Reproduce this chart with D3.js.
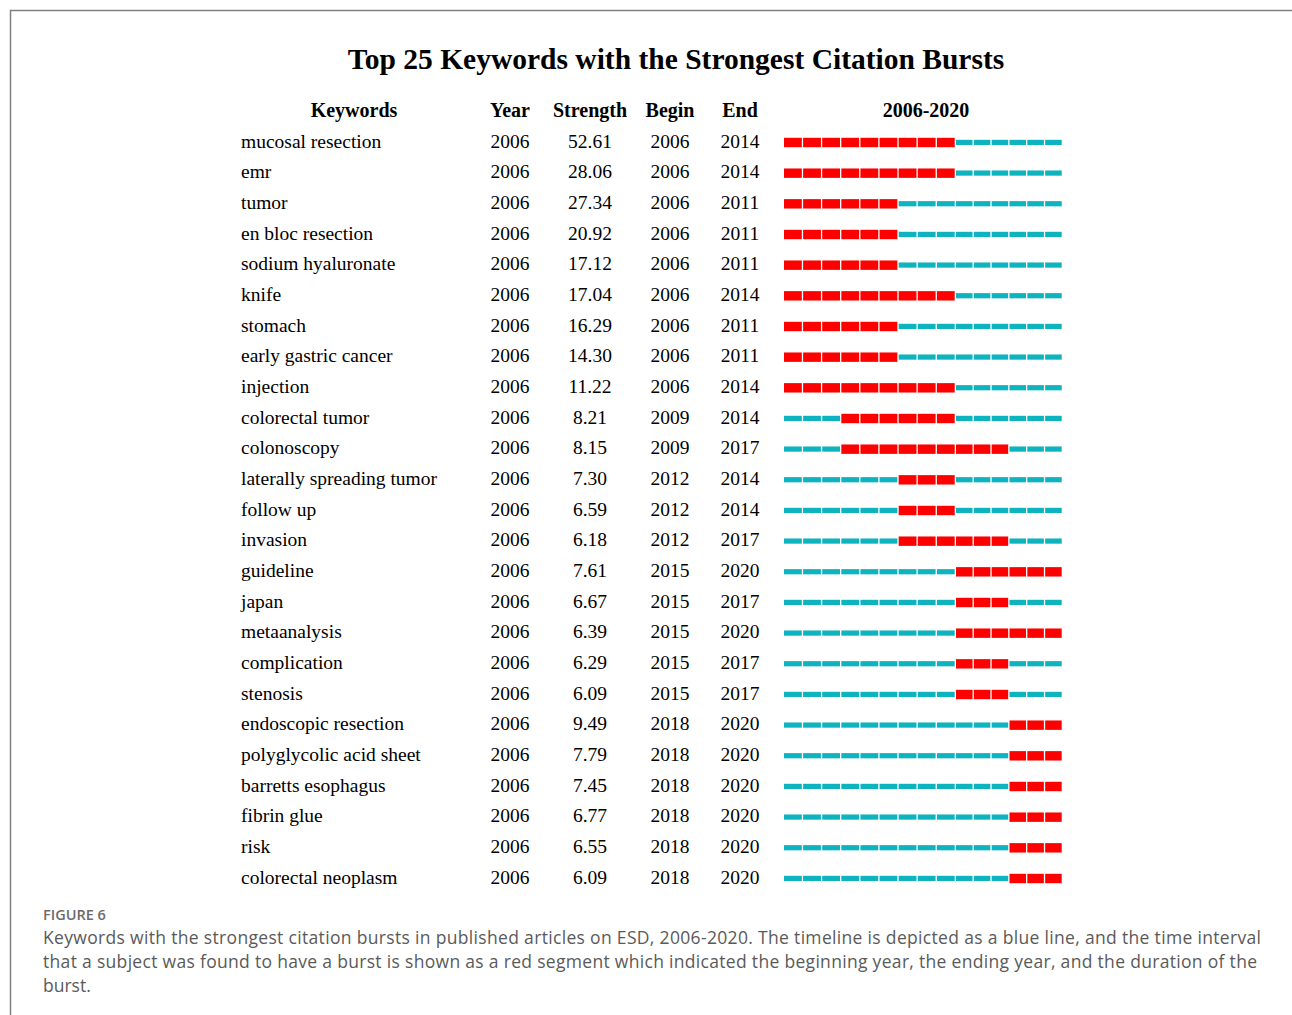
<!DOCTYPE html>
<html><head><meta charset="utf-8">
<script src="https://cdn.jsdelivr.net/npm/d3@7"></script>
<style>body{margin:0;background:#fff}svg{display:block}</style>
</head><body>
<svg id="c" width="1292" height="1015"></svg>
<script>
const keywords = ["mucosal resection","emr","tumor","en bloc resection","sodium hyaluronate","knife","stomach","early gastric cancer","injection","colorectal tumor","colonoscopy","laterally spreading tumor","follow up","invasion","guideline","japan","metaanalysis","complication","stenosis","endoscopic resection","polyglycolic acid sheet","barretts esophagus","fibrin glue","risk","colorectal neoplasm"];
const years = Array(25).fill(2006);
const strengths = ["52.61","28.06","27.34","20.92","17.12","17.04","16.29","14.30","11.22","8.21","8.15","7.30","6.59","6.18","7.61","6.67","6.39","6.29","6.09","9.49","7.79","7.45","6.77","6.55","6.09"];
const begins = [2006,2006,2006,2006,2006,2006,2006,2006,2006,2009,2009,2012,2012,2012,2015,2015,2015,2015,2015,2018,2018,2018,2018,2018,2018];
const ends = [2014,2014,2011,2011,2011,2014,2011,2011,2014,2014,2017,2014,2014,2017,2020,2017,2020,2017,2017,2020,2020,2020,2020,2020,2020];
const headers = ["Keywords","Year","Strength","Begin","End","2006-2020"];
const title = "Top 25 Keywords with the Strongest Citation Bursts";
const figLabel = "FIGURE 6";
const captionLines = ["Keywords with the strongest citation bursts in published articles on ESD, 2006-2020. The timeline is depicted as a blue line, and the time interval","that a subject was found to have a burst is shown as a red segment which indicated the beginning year, the ending year, and the duration of the","burst."];
const timeline = d3.range(2006, 2021);

const svg = d3.select("#c");
svg.append("path").attr("d","M10.5,1015 L10.5,10.5 L1292,10.5").attr("fill","none").attr("stroke","#808080").attr("stroke-width",1.5);

const serif = "'Liberation Serif','Times New Roman',serif";
svg.append("text").attr("x",676).attr("y",69).attr("text-anchor","middle")
  .attr("font-family",serif).attr("font-weight","bold").attr("font-size",29.5).attr("fill","#000").text(title);

const y = d3.scalePoint().domain(d3.range(keywords.length)).range([141,877]);
const x = d3.scaleLinear().domain([2006,2015,2021]).range([784,956,1063]);

const colX = [354,510,590,670,740,926];
svg.append("g").selectAll("text").data(headers).join("text")
  .attr("x",(d,i)=>colX[i]).attr("y",117).attr("text-anchor","middle")
  .attr("font-family",serif).attr("font-weight","bold").attr("font-size",20).text(d=>d);

const rows = svg.append("g").selectAll("g").data(keywords).join("g")
  .attr("transform",(d,i)=>`translate(0,${y(i)})`);
const tf = (sel)=>sel.attr("font-family",serif).attr("font-size",19.5).attr("fill","#000").attr("dy","0.35em");
rows.append("text").attr("x",241).text(d=>d).call(tf);
rows.append("text").attr("x",510).attr("text-anchor","middle").text((d,i)=>years[i]).call(tf);
rows.append("text").attr("x",590).attr("text-anchor","middle").text((d,i)=>strengths[i]).call(tf);
rows.append("text").attr("x",670).attr("text-anchor","middle").text((d,i)=>begins[i]).call(tf);
rows.append("text").attr("x",740).attr("text-anchor","middle").text((d,i)=>ends[i]).call(tf);

rows.each(function(d,i){
  const g = d3.select(this);
  const on = t => t>=begins[i] && t<=ends[i];
  g.selectAll("rect").data(timeline).join("rect")
    .attr("x",t=>x(t)).attr("width",t=>x(t+1)-x(t)-1.3)
    .attr("y",t=> on(t) ? -3.2 : -1.2)
    .attr("height",t=> on(t) ? 9.4 : 5.2)
    .attr("fill",t=> on(t) ? "#ff0000" : "#0db3be");
});

const sans = "'Open Sans','Noto Sans',sans-serif";
svg.append("text").attr("x",43).attr("y",920).attr("font-family",sans).attr("font-size",14.5).attr("font-weight",600).attr("fill","#6b6b6b").text(figLabel);
const capW = [1218, 1214, null];
svg.append("g").selectAll("text").data(captionLines).join("text")
  .attr("x",43).attr("y",(d,i)=>944+i*24).attr("font-family",sans).attr("font-size",17.5).attr("fill","#5a5a5a")
  .each(function(d,i){ if(capW[i]) d3.select(this).attr("textLength",capW[i]).attr("lengthAdjust","spacing"); })
  .text(d=>d);
</script>
</body></html>
